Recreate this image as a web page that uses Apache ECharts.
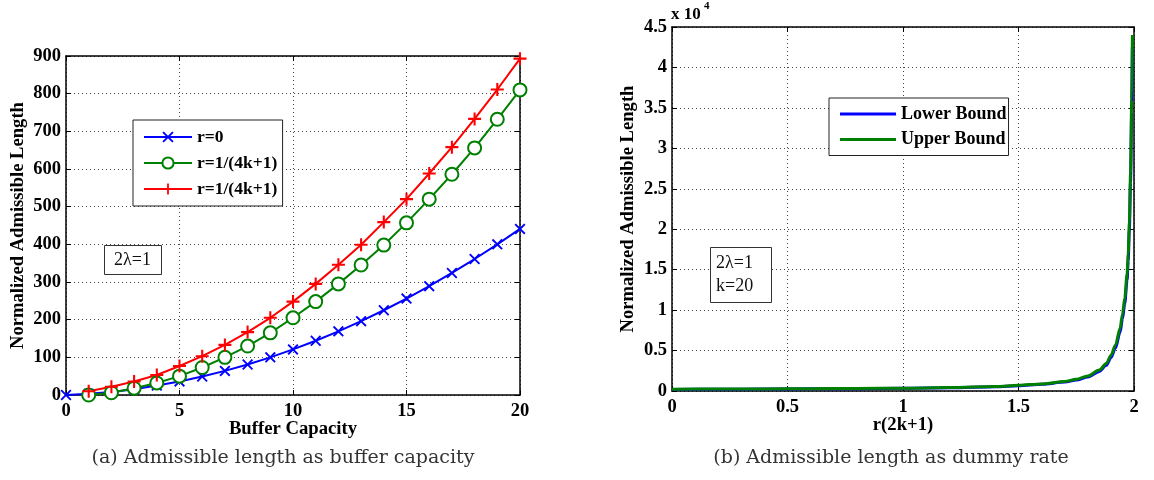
<!DOCTYPE html>
<html>
<head>
<meta charset="utf-8">
<script src="https://cdn.jsdelivr.net/npm/echarts@6/dist/echarts.min.js"></script>
<style>
html,body{margin:0;padding:0;background:#fff;}
#chart{width:1154px;height:480px;}
</style>
</head>
<body>
<div id="chart"></div>
<script>
// ---------- Data (left panel) ----------
var bufferR0X = [0,1,2,3,4,5,6,7,8,9,10,11,12,13,14,15,16,17,18,19,20];
var bufferR0Y = [0,3,8,15,25,36,49,64,81,100,121,144,169,196,225,256,289,324,361,400,441];
var bufferGreenX = [1,2,3,4,5,6,7,8,9,10,11,12,13,14,15,16,17,18,19,20];
var bufferGreenY = [0,6,18,32,50,73,100,130,165,205,248,295,345,398,457,520,586,656,732,810];
var bufferRedX = [1,2,3,4,5,6,7,8,9,10,11,12,13,14,15,16,17,18,19,20];
var bufferRedY = [10,22,36,53,77,103,133,167,205,248,295,346,399,459,520,588,658,733,811,893];
var leftLegendNames = ['r=0','r=1/(4k+1)','r=1/(4k+1) '];

// ---------- Data (right panel) ----------
var rateX = [0,0.2,0.4,0.6,0.8,1.0,1.2,1.4,1.5,1.6,1.7,1.75,1.8,1.85,1.88,1.9,1.92,1.94,1.95,1.96,1.97,1.975,1.98,1.985,1.99,1.993];
var rateUpper = [220,240,262,287,318,352,420,560,700,880,1180,1450,1850,2600,3400,4400,5700,7800,9500,11500,14500,17000,21000,27000,36000,44000];
var rateLower = [200,218,240,264,293,327,392,522,652,822,1100,1350,1730,2420,3170,4100,5320,7300,8900,10800,13700,16100,20000,25800,34500,42500];
var rightLegendNames = ['Lower Bound','Upper Bound'];

// ---------- Tick settings ----------
var leftXTicks = {min:0, max:20, interval:5};
var leftYTicks = {min:0, max:900, interval:100};
var rightXTicks = {min:0, max:2, interval:0.5};
var rightYTicks = {min:0, max:45000, interval:5000, scale:10000};

function pairs(xs, ys){ return xs.map(function(x,i){return [x, ys[i]];}); }

function bold(size){ return {fontFamily:'Liberation Serif', fontWeight:'bold', fontSize:size, color:'#000'}; }
var TICKF = bold(18.5);
var XTITLE = bold(18.7);
var YTITLE = bold(18.6);
var LEGF = bold(17.5);
var X_SYMBOL = 'path://M1.2,0 L5,3.8 L8.8,0 L10,1.2 L6.2,5 L10,8.8 L8.8,10 L5,6.2 L1.2,10 L0,8.8 L3.8,5 L0,1.2 Z';
var PLUS_SYMBOL = 'path://M4.2,0 L5.8,0 L5.8,4.2 L10,4.2 L10,5.8 L5.8,5.8 L5.8,10 L4.2,10 L4.2,5.8 L0,5.8 L0,4.2 L4.2,4.2 Z';
var LINE_ICON = 'path://M0,0 L56,0 L56,3 L0,3 Z';

var gridLine = {show:true, lineStyle:{color:'#444', width:1, type:[1,3]}};
var axLine = {show:true, onZero:false, lineStyle:{color:'#000', width:1.5}};
var tickIn = {show:true, inside:true, length:5, lineStyle:{color:'#000', width:1}};

function mainX(gi, t, name, gap){
  return {type:'value', gridIndex:gi, position:'bottom', min:t.min, max:t.max, interval:t.interval,
    axisLine:axLine, axisTick:tickIn, splitLine:gridLine,
    axisLabel:Object.assign({margin:7}, TICKF),
    name:name, nameLocation:'middle', nameGap:gap, nameMoveOverlap:false, nameTextStyle:XTITLE};
}
function topX(gi, t){
  return {type:'value', gridIndex:gi, position:'top', min:t.min, max:t.max, interval:t.interval,
    axisLine:axLine, axisTick:tickIn, splitLine:{show:false}, axisLabel:{show:false}};
}
function mainY(gi, t, name, gap, fmt){
  return {type:'value', gridIndex:gi, position:'left', min:t.min, max:t.max, interval:t.interval,
    axisLine:axLine, axisTick:tickIn, splitLine:gridLine,
    axisLabel:Object.assign({margin:5, formatter:fmt}, TICKF),
    name:name, nameLocation:'middle', nameGap:gap, nameMoveOverlap:false, nameRotate:90, nameTextStyle:YTITLE};
}
function rightY(gi, t){
  return {type:'value', gridIndex:gi, position:'right', min:t.min, max:t.max, interval:t.interval,
    axisLine:axLine, axisTick:tickIn, splitLine:{show:false}, axisLabel:{show:false}};
}

var chart = echarts.init(document.getElementById('chart'), null, {renderer:'canvas'});
chart.setOption({
  backgroundColor:'#fff',
  animation:false,
  grid:[
    {left:66, top:56, width:454, height:339},
    {left:672, top:27, width:462, height:364}
  ],
  xAxis:[
    mainX(0, leftXTicks, 'Buffer Capacity', 25),
    topX(0, leftXTicks),
    mainX(1, rightXTicks, 'r(2k+1)', 25),
    topX(1, rightXTicks)
  ],
  yAxis:[
    mainY(0, leftYTicks, 'Normalized Admissible Length', 38, function(v){return String(v);}),
    rightY(0, leftYTicks),
    mainY(1, rightYTicks, 'Normalized Admissible Length', 34, function(v){return String(v/rightYTicks.scale);}),
    rightY(1, rightYTicks)
  ],
  legend:[
    {data:leftLegendNames, orient:'vertical', left:133, top:120, padding:[8,1,8,10],
     itemWidth:48, itemHeight:14, itemGap:8, backgroundColor:'#fff', borderColor:'#222', borderWidth:1,
     textStyle:LEGF, borderRadius:0},
    {data:rightLegendNames.map(function(n){return {name:n, icon:LINE_ICON};}), orient:'vertical', left:829, top:98, padding:[7,2,7,11],
     itemWidth:56, itemHeight:14, itemGap:7.5, backgroundColor:'#fff', borderColor:'#222', borderWidth:1,
     textStyle:bold(18), borderRadius:0}
  ],
  series:[
    {name:leftLegendNames[0], type:'line', xAxisIndex:0, yAxisIndex:0, data:pairs(bufferR0X, bufferR0Y),
     symbol:X_SYMBOL, symbolSize:11, showAllSymbol:true, color:'#0000ff',
     lineStyle:{width:2, color:'#0000ff'}, itemStyle:{color:'#0000ff'}},
    {name:leftLegendNames[1], type:'line', xAxisIndex:0, yAxisIndex:0, data:pairs(bufferGreenX, bufferGreenY),
     symbol:'emptyCircle', symbolSize:13, showAllSymbol:true, color:'#008000',
     lineStyle:{width:2, color:'#008000'}, itemStyle:{color:'#008000', borderColor:'#008000', borderWidth:2}},
    {name:leftLegendNames[2], type:'line', xAxisIndex:0, yAxisIndex:0, data:pairs(bufferRedX, bufferRedY),
     symbol:PLUS_SYMBOL, symbolSize:13, showAllSymbol:true, color:'#ff0000',
     lineStyle:{width:2, color:'#ff0000'}, itemStyle:{color:'#ff0000'}},
    {name:rightLegendNames[0], type:'line', xAxisIndex:2, yAxisIndex:2, data:pairs(rateX, rateLower),
     showSymbol:false, smooth:0.3, smoothMonotone:'x', color:'#0000ff',
     lineStyle:{width:3, color:'#0000ff'}, itemStyle:{color:'#0000ff'}},
    {name:rightLegendNames[1], type:'line', xAxisIndex:2, yAxisIndex:2, data:pairs(rateX, rateUpper),
     showSymbol:false, smooth:0.3, smoothMonotone:'x', color:'#008000',
     lineStyle:{width:3, color:'#008000'}, itemStyle:{color:'#008000'}}
  ],
  graphic:[
    {type:'rect', shape:{x:104.5, y:245.5, width:57, height:29}, style:{fill:'#fff', stroke:'#333', lineWidth:1}, z:100},
    {type:'text', x:132.5, y:260, style:{text:'2λ=1', font:'18px "Liberation Serif"', fill:'#111', align:'center', verticalAlign:'middle'}, z:101},
    {type:'rect', shape:{x:710.5, y:247.5, width:61, height:55}, style:{fill:'#fff', stroke:'#333', lineWidth:1}, z:100},
    {type:'text', x:716, y:263, style:{text:'2λ=1', font:'18px "Liberation Serif"', fill:'#111', align:'left', verticalAlign:'middle'}, z:101},
    {type:'text', x:716, y:286, style:{text:'k=20', font:'18px "Liberation Serif"', fill:'#111', align:'left', verticalAlign:'middle'}, z:101},
    {type:'text', x:671, y:15, style:{text:'x 10', font:'bold 17px "Liberation Serif"', fill:'#000', align:'left', verticalAlign:'middle'}, z:101},
    {type:'text', x:704, y:6, style:{text:'4', font:'bold 11px "Liberation Serif"', fill:'#000', align:'left', verticalAlign:'middle'}, z:101},
    {type:'text', x:283, y:458, style:{text:'(a) Admissible length as buffer capacity', font:'19px "DejaVu Serif"', fill:'#333', align:'center', verticalAlign:'middle'}, z:101},
    {type:'text', x:891, y:458, style:{text:'(b) Admissible length as dummy rate', font:'19px "DejaVu Serif"', fill:'#333', align:'center', verticalAlign:'middle'}, z:101}
  ]
});
</script>
</body>
</html>
